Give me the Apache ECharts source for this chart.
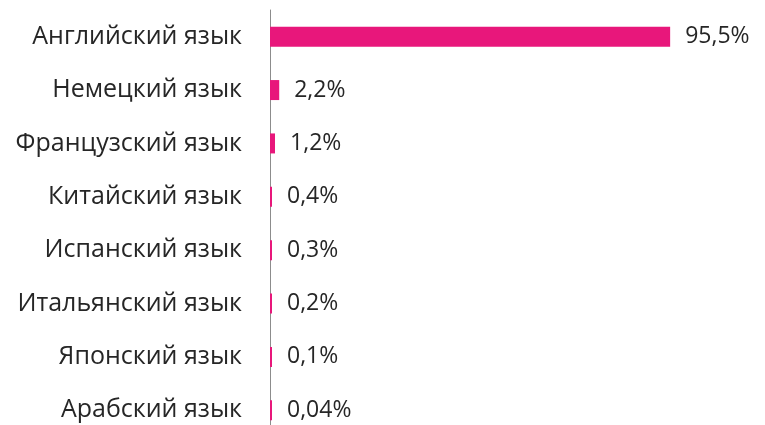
<!DOCTYPE html>
<html><head><meta charset="utf-8">
<script src="https://cdn.jsdelivr.net/npm/echarts@6/dist/echarts.min.js"></script>
<style>html,body{margin:0;padding:0;background:#fff;overflow:hidden}#c{width:765px;height:437px}</style>
</head><body><div id="c"></div>
<script>
const categories = ["Английский язык","Немецкий язык","Французский язык","Китайский язык","Испанский язык","Итальянский язык","Японский язык","Арабский язык"];
const values = [95.5, 2.2, 1.2, 0.4, 0.3, 0.2, 0.1, 0.04];
const valueLabels = ["95,5%","2,2%","1,2%","0,4%","0,3%","0,2%","0,1%","0,04%"];

const chart = echarts.init(document.getElementById('c'));
chart.setOption({
  animation:false,
  grid:{left:270, top:10, right:76, bottom:0},
  xAxis:{type:'value', min:0, max:100, show:false},
  yAxis:{type:'category', inverse:true, data:categories,
    axisLine:{show:true, lineStyle:{color:'#8c8c8c', width:1}},
    axisTick:{show:false},
    axisLabel:{color:'#262626', fontFamily:'Open Sans', fontSize:25, margin:28}},
  series:[{type:'bar', data:values, barWidth:20, barMinHeight:2,
    itemStyle:{color:'#E8177B'},
    label:{show:true, position:'right', distance:15, color:'#262626', fontFamily:'Open Sans', fontSize:23,
      formatter:p=>valueLabels[p.dataIndex]}}]
});
</script></body></html>
